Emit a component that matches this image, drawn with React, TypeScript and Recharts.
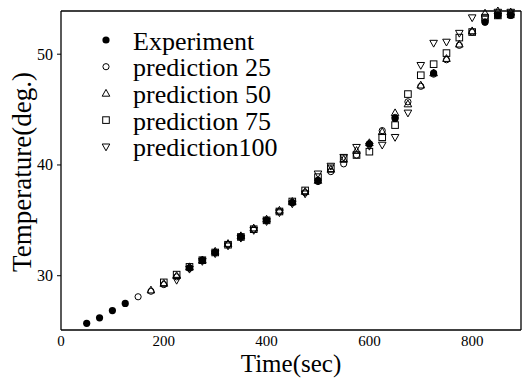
import React from 'react'
import { ScatterChart, Scatter, XAxis, YAxis } from 'recharts'

// sample times (sec) shared by every series, null = no point at that time
const times = [50, 75, 100, 125, 150, 175, 200, 225, 250, 275, 300, 325, 350, 375, 400, 425, 450, 475, 500, 525, 550, 575, 600, 625, 650, 675, 700, 725, 750, 775, 800, 825, 850, 875]

const experiment = [25.7, 26.2, 26.85, 27.5, null, null, null, null, 30.7, 31.4, 32.1, null, 33.5, null, 35.0, null, 36.6, null, 38.6, null, null, null, 41.9, null, 44.2, null, null, 48.3, null, null, null, 52.9, 53.5, 53.5]
const prediction25 = [null, null, null, null, 28.1, 28.6, 29.2, 29.9, 30.7, 31.4, 32.1, 32.8, 33.5, 34.2, 35.0, 35.8, 36.6, 37.5, 38.5, 39.4, 40.1, 40.9, 41.9, 43.1, 44.3, 45.7, 47.1, 48.2, 49.5, 50.8, 52.0, 52.9, 53.5, 53.5]
const prediction50 = [null, null, null, null, null, 28.7, 29.3, 30.0, 30.8, 31.4, 32.2, 32.9, 33.6, 34.3, 35.1, 35.9, 36.7, 37.6, 38.6, 39.6, 40.5, 41.3, 42.0, 43.0, 44.7, 45.5, 47.2, 48.3, 49.6, 50.9, 52.1, 53.7, 53.9, 53.8]
const prediction75 = [null, null, null, null, null, null, 29.4, 30.1, 30.8, 31.4, 32.1, 32.8, 33.5, 34.2, 35.0, 35.8, 36.7, 37.7, 38.9, 39.7, 40.6, 40.9, 41.2, 42.5, 43.6, 46.4, 48.1, 49.1, 50.1, 51.5, 52.0, 53.3, 53.5, 53.6]
const prediction100 = [null, null, null, null, null, null, null, 29.6, 30.6, 31.3, 32.0, 32.7, 33.4, 34.1, 34.9, 35.7, 36.5, 37.4, 39.2, 39.9, 40.7, 41.6, 41.7, 41.8, 42.5, 44.7, 49.0, 51.0, 51.1, 51.9, 53.3, 53.2, 53.8, 53.8]

const xTicks = [0, 200, 400, 600, 800]
const xMajorInner = [200, 400, 600, 800]
const xMinorInner = [100, 300, 500, 700]
const yTicks = [30, 40, 50]
const yMinorTicks = [35, 45]
const yRightTicks = [30, 35, 40, 45, 50]

const legendNames = ['Experiment', 'prediction 25', 'prediction 50', 'prediction 75', 'prediction100']

const xDomain = [0, 895]
const yDomain = [25.1, 53.9]
const font = "'Liberation Serif', 'Times New Roman', serif"

function toPoints(values: (number | null)[]) {
  return times
    .map((t, i) => ({ x: t, y: values[i] }))
    .filter((p) => p.y != null)
}

type MarkProps = { cx?: number; cy?: number }

const FilledDot = ({ cx = 0, cy = 0 }: MarkProps) => <circle cx={cx} cy={cy} r={3.6} fill="#000" />
const OpenDot = ({ cx = 0, cy = 0 }: MarkProps) => <circle cx={cx} cy={cy} r={3.1} fill="none" stroke="#000" strokeWidth={1} />
const TriUp = ({ cx = 0, cy = 0 }: MarkProps) => (
  <polygon points={`${cx},${cy - 4} ${cx - 3.8},${cy + 2.8} ${cx + 3.8},${cy + 2.8}`} fill="none" stroke="#000" strokeWidth={1} />
)
const Square = ({ cx = 0, cy = 0 }: MarkProps) => (
  <rect x={cx - 3.3} y={cy - 3.3} width={6.6} height={6.6} fill="none" stroke="#000" strokeWidth={1} />
)
const TriDown = ({ cx = 0, cy = 0 }: MarkProps) => (
  <polygon points={`${cx},${cy + 4} ${cx - 3.8},${cy - 2.8} ${cx + 3.8},${cy - 2.8}`} fill="none" stroke="#000" strokeWidth={1} />
)

const markers = [FilledDot, OpenDot, TriUp, Square, TriDown]

function XTick(props: any) {
  const { x, y, payload } = props
  return (
    <text x={x} y={y + 12} textAnchor="middle" fontFamily={font} fontSize={15} fill="#000">{payload.value}</text>
  )
}

function YTick(props: any) {
  const { x, y, payload } = props
  return (
    <text x={x} y={y + 5.5} textAnchor="end" fontFamily={font} fontSize={16} fill="#000">{payload.value}</text>
  )
}

function LegendBox() {
  return (
    <g>
      {legendNames.map((name, i) => {
        const Mark = markers[i]
        const y = 40 + i * 26.7
        return (
          <g key={name}>
            <Mark cx={106} cy={y} />
            <text x={133} y={y + 9.5} fontFamily={font} fontSize={26} fill="#000">{name}</text>
          </g>
        )
      })}
    </g>
  )
}

export default function App() {
  return (
    <div style={{ position: 'absolute', left: 0, top: 0, background: '#fff' }}>
      <ScatterChart width={522} height={378} margin={{ top: 11, right: 1, bottom: 0, left: 0 }}>
        <XAxis xAxisId="x" type="number" dataKey="x" domain={xDomain} ticks={xTicks} interval={0}
          height={48} tickSize={0} tickMargin={4} tickLine={false} axisLine={{ stroke: '#000', strokeWidth: 1.3 }} tick={<XTick />} />
        <XAxis xAxisId="bMaj" type="number" domain={xDomain} ticks={xMajorInner} interval={0}
          mirror height={0.01} tick={false} tickSize={7} axisLine={false} tickLine={{ stroke: '#000' }} />
        <XAxis xAxisId="bMin" type="number" domain={xDomain} ticks={xMinorInner} interval={0}
          mirror height={0.01} tick={false} tickSize={4} axisLine={false} tickLine={{ stroke: '#000' }} />
        <XAxis xAxisId="tMaj" orientation="top" type="number" domain={xDomain} ticks={xMajorInner} interval={0}
          mirror height={0.01} tick={false} tickSize={6} axisLine={{ stroke: '#000', strokeWidth: 1.3 }} tickLine={{ stroke: '#000' }} />
        <XAxis xAxisId="tMin" orientation="top" type="number" domain={xDomain} ticks={xMinorInner} interval={0}
          mirror height={0.01} tick={false} tickSize={4} axisLine={false} tickLine={{ stroke: '#000' }} />
        <YAxis yAxisId="y" type="number" dataKey="y" domain={yDomain} ticks={yTicks} interval={0}
          width={61} tickSize={4} tickMargin={4} axisLine={{ stroke: '#000', strokeWidth: 1.3 }} tickLine={{ stroke: '#000' }} tick={<YTick />} />
        <YAxis yAxisId="yMin" type="number" domain={yDomain} ticks={yMinorTicks} interval={0}
          mirror width={0.01} tick={false} tickSize={4} axisLine={false} tickLine={{ stroke: '#000' }} />
        <YAxis yAxisId="r" orientation="right" type="number" domain={yDomain} ticks={yRightTicks} interval={0}
          mirror width={0.01} tick={false} tickSize={4} axisLine={{ stroke: '#000', strokeWidth: 1.3 }} tickLine={{ stroke: '#000' }} />

        <Scatter name="Experiment" data={toPoints(experiment)} xAxisId="x" yAxisId="y" shape={FilledDot} isAnimationActive={false} />
        <Scatter name="prediction 25" data={toPoints(prediction25)} xAxisId="x" yAxisId="y" shape={OpenDot} isAnimationActive={false} />
        <Scatter name="prediction 50" data={toPoints(prediction50)} xAxisId="x" yAxisId="y" shape={TriUp} isAnimationActive={false} />
        <Scatter name="prediction 75" data={toPoints(prediction75)} xAxisId="x" yAxisId="y" shape={Square} isAnimationActive={false} />
        <Scatter name="prediction100" data={toPoints(prediction100)} xAxisId="x" yAxisId="y" shape={TriDown} isAnimationActive={false} />

        <LegendBox />
        <text x={291} y={372} textAnchor="middle" fontFamily={font} fontSize={25} fill="#000">Time(sec)</text>
        <text transform="rotate(-90)" x={-172} y={31} textAnchor="middle" fontFamily={font} fontSize={27} fill="#000">Temperature(deg.)</text>
      </ScatterChart>
    </div>
  )
}
